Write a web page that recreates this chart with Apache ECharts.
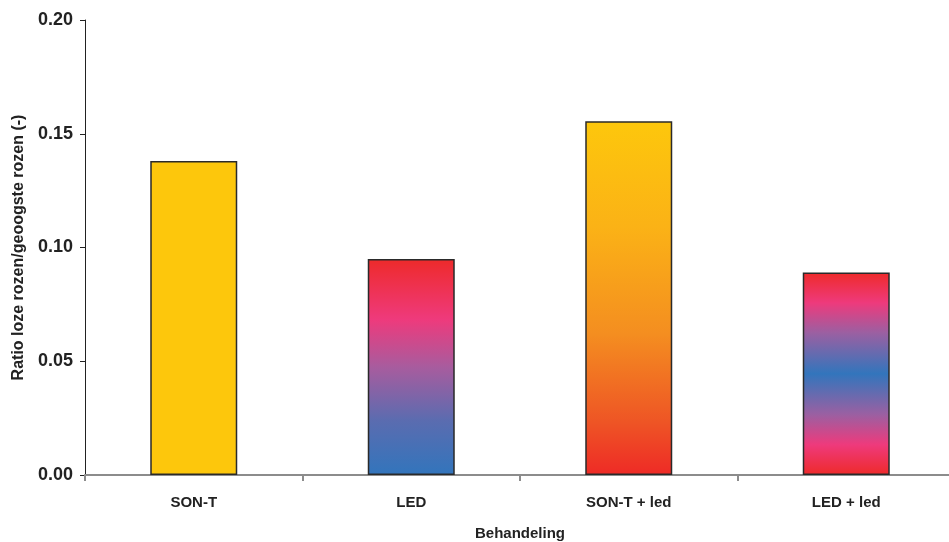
<!DOCTYPE html>
<html><head><meta charset="utf-8">
<script src="https://cdn.jsdelivr.net/npm/echarts@6/dist/echarts.min.js"></script>
<style>html,body{margin:0;padding:0;background:#fff}#c{width:949px;height:542px}</style>
</head><body><div id="c"></div>
<script>
const categories = ['SON-T', 'LED', 'SON-T + led', 'LED + led'];
const values = [0.138, 0.095, 0.1555, 0.089];
const yTicks = { min: 0, max: 0.2, interval: 0.05 };

function grad(stops) {
  return new echarts.graphic.LinearGradient(0, 0, 0, 1, stops.map(s => ({ offset: s[0], color: s[1] })));
}
const fills = [
  '#FDC70C',
  grad([[0, '#EE2A2A'], [0.28, '#EE3A7C'], [0.5, '#A85C9E'], [0.75, '#5A6CB0'], [1, '#3275BC']]),
  grad([[0, '#FDC70C'], [0.3, '#FBB216'], [0.6, '#F48E20'], [0.85, '#EE5525'], [1, '#EE2A26']]),
  grad([[0, '#EE2A2A'], [0.15, '#EE3A7C'], [0.3, '#9A60A2'], [0.5, '#3275BC'], [0.7, '#9A60A2'], [0.85, '#EE3A7C'], [1, '#EE2A2A']])
];

const chart = echarts.init(document.getElementById('c'), null, { renderer: 'canvas' });
chart.setOption({
  animation: false,
  grid: { left: 85, right: -6, top: 20, bottom: 67, containLabel: false, outerBoundsMode: 'none' },
  xAxis: {
    type: 'category',
    data: categories,
    name: 'Behandeling',
    nameLocation: 'middle',
    nameGap: 51,
    nameTextStyle: { fontFamily: 'Liberation Sans', fontWeight: 'bold', fontSize: 15, color: '#222' },
    axisLine: { lineStyle: { color: '#8c8c8c', width: 2 } },
    axisTick: { show: true, length: 6, lineStyle: { color: '#8c8c8c', width: 2 } },
    axisLabel: { fontFamily: 'Liberation Sans', fontWeight: 'bold', fontSize: 15, color: '#222', margin: 20 }
  },
  yAxis: {
    type: 'value',
    min: yTicks.min, max: yTicks.max, interval: yTicks.interval,
    name: 'Ratio loze rozen/geoogste rozen (-)',
    nameLocation: 'middle',
    nameGap: 58,
    nameRotate: 90,
    nameTextStyle: { fontFamily: 'Liberation Sans', fontWeight: 'bold', fontSize: 16, color: '#222' },
    axisLine: { show: true, lineStyle: { color: '#222', width: 1 } },
    axisTick: { show: true, length: 5, lineStyle: { color: '#222', width: 1 } },
    splitLine: { show: false },
    axisLabel: {
      fontFamily: 'Liberation Sans', fontWeight: 'bold', fontSize: 18, color: '#222', margin: 12,
      formatter: v => v.toFixed(2)
    }
  },
  series: [{
    type: 'bar',
    barWidth: '40%',
    data: values.map((v, i) => ({ value: v, itemStyle: { color: fills[i] } })),
    itemStyle: { borderColor: '#2a2a2a', borderWidth: 1.5 }
  }]
});
</script>
</body></html>
